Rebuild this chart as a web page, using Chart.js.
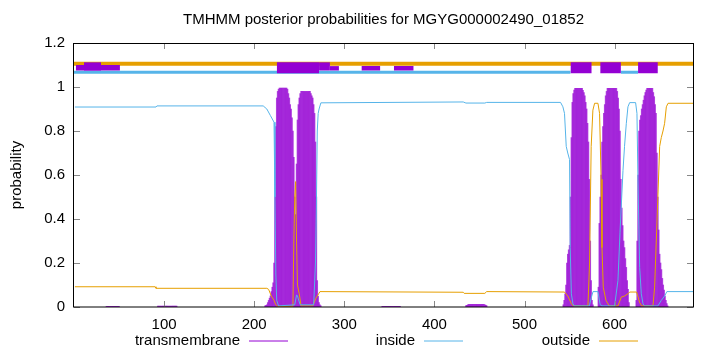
<!DOCTYPE html>
<html><head><meta charset="utf-8">
<script src="https://cdn.jsdelivr.net/npm/chart.js@4/dist/chart.umd.min.js"></script>
<style>html,body{margin:0;padding:0;background:#fff}#wrap{width:720px;height:352px;position:relative}</style>
</head><body><div id="wrap"><canvas id="c" width="720" height="352"></canvas></div>
<script>
const titleText = 'TMHMM posterior probabilities for MGYG000002490_01852';
const yTitle = 'probability';
const seriesLabels = ['transmembrane', 'inside', 'outside'];
const xTicks = [100, 200, 300, 400, 500, 600];
const yTicks = [0, 0.2, 0.4, 0.6, 0.8, 1, 1.2];
const xMin = 0, xMax = 687;

// transmembrane posterior per residue, in runs starting at tmStarts[i]
const tmStarts = [36, 93, 212, 342, 435, 543];
const tmA = [0.003,0.003,0.003,0.003,0.003,0.003,0.003,0.003,0.003,0.003,0.003,0.003,0.003,0.003,0.003];
const tmB = [0.004,0.004,0.004,0.004,0.004,0.004,0.004,0.004,0.004,0.004,0.004,0.004,0.004,0.004,0.004,0.004,0.004,0.004,0.004,0.004,0.004,0.004];
const tmC = [0.005,0.008,0.01,0.02,0.03,0.04,0.05,0.07,0.09,0.11,0.2,0.5,0.82,0.95,0.98,0.99,
  0.995,0.995,0.995,0.995,0.995,0.995,0.995,0.995,0.995,0.99,0.97,0.95,0.92,0.9,0.86,0.8,0.68,0.5,0.42,0.65,0.85,0.92,0.95,0.97,
  0.98,0.98,0.98,0.98,0.98,0.98,0.98,0.98,0.98,0.98,0.98,0.97,0.96,0.95,0.92,0.88,0.75,0.5,0.12,0.05,0.02,0.01,0.005];
const tmD = [0.003,0.003,0.003,0.003,0.003,0.003,0.003,0.003,0.003,0.003,0.003,0.003,0.003,0.003,0.003,0.003,0.003,0.003,0.003,0.003,0.003];
const tmE = [0.006,0.008,0.01,0.012,0.012,0.012,0.012,0.012,0.012,0.012,0.012,0.012,0.012,0.012,0.012,0.012,0.012,0.012,0.012,0.012,0.012,0.01,0.008,0.006];
const tmF = [0.01,0.03,0.06,0.1,0.2,0.24,0.26,0.28,0.5,0.77,0.93,0.97,0.986,
  0.994,0.994,0.994,0.994,0.994,0.994,0.994,0.994,0.994,0.985,0.975,0.96,0.93,0.9,0.835,0.75,0.58,0.3,0.12,0.03,0.01,
  0,0,0,0,0,
  0.09,0.38,0.5,0.6,0.75,0.82,0.88,0.92,0.96,0.98,
  0.994,0.994,0.994,0.994,0.994,0.994,0.994,0.994,0.994,0.994,0.994,0.98,0.95,0.9,0.8,0.58,0.45,0.37,0.3,0.27,0.22,0.18,0.12,0.08,0.02,
  0,0,0,0,0,0,0,
  0.03,0.3,0.6,0.8,0.85,0.87,0.9,0.92,0.94,0.96,0.975,0.986,
  0.994,0.994,0.994,0.994,0.994,0.994,0.994,0.975,0.956,0.92,0.88,0.7,0.5,0.35,0.24,0.2,0.17,0.13,0.1,0.077,0.05,0.03,0.015,0.005];
const tmRuns = [tmA, tmB, tmC, tmD, tmE, tmF];

// inside (light blue) curve, read at breakpoints
const insideX = [1,91,92,210,214,218,222,223,224,225,227,245,247,248,251,266,268,269,270,271,272,274,432,435,456,458,540,542.6,544.4,546.3,548,550,550.7,552,553.7,555,572,574,576,581.5,584,586,600,603.7,606,609.3,611,613,614.8,616.7,623.3,624.8,625.9,627.8,629.6,631.5,633,648,651.8,655.5,658,687];
const insideY = [0.909,0.909,0.914,0.914,0.9,0.87,0.84,0.5,0.15,0.03,0.005,0.01,0.055,0.05,0.01,0.01,0.2,0.45,0.8,0.88,0.9,0.928,0.932,0.927,0.927,0.93,0.93,0.91,0.88,0.73,0.7,0.67,0.27,0.06,0.015,0.005,0.005,0.04,0.07,0.07,0.01,0.005,0.005,0.12,0.34,0.62,0.73,0.835,0.91,0.929,0.929,0.88,0.58,0.18,0.06,0.015,0.005,0.005,0.03,0.05,0.07,0.07];

// outside (orange) curve, read at breakpoints
const outsideX = [1,90,91,214,216,219,222,224,226,243,244,245,246,247,248,250,252,265,268.5,271.5,273,432,433,456,458,544.4,548,552,554,570.4,572.2,574,575.9,577.8,581.5,583.3,585,586,587.4,590.4,594,603.7,607.4,611,614.8,616.7,624.4,627.8,630,642.6,644.4,648,650,651.8,653.7,655.5,657.4,659.3,687];
const outsideY = [0.092,0.092,0.085,0.085,0.08,0.05,0.03,0.01,0.003,0.003,0.3,0.5,0.57,0.3,0.1,0.06,0.005,0.005,0.04,0.06,0.07,0.067,0.062,0.062,0.07,0.068,0.05,0.015,0.005,0.005,0.2,0.73,0.895,0.926,0.926,0.88,0.58,0.27,0.09,0.03,0.005,0.005,0.045,0.05,0.06,0.068,0.068,0.02,0.005,0.005,0.09,0.5,0.73,0.77,0.8,0.835,0.91,0.926,0.926];

// predicted topology band at the top
const bandOutsideLevel = 1.106;
const bandInsideLevel = 1.067;
const bandInsideRuns = [[0, 551], [607, 626]];
const boxX0 = [2, 11, 225, 272, 284, 319, 355, 551, 584, 626];
const boxX1 = [51, 30, 272, 284, 294, 340, 377, 574.6, 607, 648];
const boxLo = [1.075, 1.075, 1.062, 1.075, 1.075, 1.075, 1.075, 1.062, 1.062, 1.062];
const boxHi = [1.10, 1.112, 1.112, 1.112, 1.095, 1.095, 1.095, 1.112, 1.112, 1.112];

const PURPLE = '#9400d3', BLUE = '#56b4e9', ORANGE = '#e69f00';
const FONT = '"Liberation Sans", Arial, Helvetica, sans-serif';
const FS = 15;

const tmPoints = [];
tmRuns.forEach((run, k) => run.forEach((v, i) => { if (v > 0) tmPoints.push({x: tmStarts[k] + i, y: v}); }));
const insidePts = insideX.map((x, i) => ({x, y: insideY[i]}));
const outsidePts = outsideX.map((x, i) => ({x, y: outsideY[i]}));
const insideBandPts = [];
bandInsideRuns.forEach((r, i) => { if (i) insideBandPts.push({x: r[0], y: null}); insideBandPts.push({x: r[0], y: bandInsideLevel}, {x: r[1], y: bandInsideLevel}); });

const common = {pointRadius: 0, pointHoverRadius: 0, tension: 0};
const datasets = [];
boxX0.forEach((x0, i) => datasets.push(Object.assign({
  type: 'line', label: 'box' + i, data: [{x: x0, y: boxHi[i]}, {x: boxX1[i], y: boxHi[i]}],
  fill: {value: boxLo[i]}, backgroundColor: PURPLE, borderColor: 'rgba(0,0,0,0)', borderWidth: 1
}, common)));
datasets.push(Object.assign({type: 'line', label: seriesLabels[1], data: insidePts, borderColor: BLUE, borderWidth: 1, fill: false}, common));
datasets.push(Object.assign({type: 'line', label: seriesLabels[2], data: outsidePts, borderColor: ORANGE, borderWidth: 1, fill: false}, common));
datasets.push(Object.assign({type: 'line', label: 'bandOut', data: [{x: xMin, y: bandOutsideLevel}, {x: xMax, y: bandOutsideLevel}], borderColor: ORANGE, borderWidth: 4, fill: false}, common));
datasets.push(Object.assign({type: 'line', label: 'bandIn', data: insideBandPts, borderColor: BLUE, borderWidth: 3, fill: false, spanGaps: false}, common));
datasets.push({type: 'bar', label: seriesLabels[0], data: tmPoints, backgroundColor: 'rgba(148,0,211,0.72)', borderWidth: 0, barThickness: 0.9});

const decor = {
  id: 'decor',
  afterDraw(chart) {
    const ctx = chart.ctx, a = chart.chartArea, xs = chart.scales.x, ys = chart.scales.y;
    ctx.save();
    // inward ticks
    ctx.strokeStyle = '#888'; ctx.lineWidth = 1;
    ctx.beginPath();
    yTicks.forEach(v => { const p = Math.round(ys.getPixelForValue(v)) + 0.5;
      ctx.moveTo(a.left, p); ctx.lineTo(a.left + 6, p); ctx.moveTo(a.right, p); ctx.lineTo(a.right - 6, p); });
    xTicks.forEach(v => { const p = Math.round(xs.getPixelForValue(v)) + 0.5;
      ctx.moveTo(p, a.bottom); ctx.lineTo(p, a.bottom - 6); ctx.moveTo(p, a.top); ctx.lineTo(p, a.top + 6); });
    ctx.stroke();
    // frame
    ctx.strokeStyle = '#000';
    ctx.strokeRect(Math.round(a.left) - 0.5, Math.round(a.top) + 0.5, Math.round(a.right - a.left) + 1, Math.round(a.bottom - a.top) - 0.5);
    // title
    ctx.fillStyle = '#000';
    ctx.font = FS + 'px ' + FONT; ctx.textAlign = 'center'; ctx.textBaseline = 'middle';
    ctx.fillText(titleText, (a.left + a.right) / 2, 20);
    // y title
    ctx.save(); ctx.translate(17, (a.top + a.bottom) / 2); ctx.rotate(-Math.PI / 2);
    ctx.fillText(yTitle, 0, 0); ctx.restore();
    // legend
    const legendTextRight = [240, 415, 590];
    const legendColors = [PURPLE, BLUE, ORANGE];
    ctx.textAlign = 'right';
    seriesLabels.forEach((lab, i) => {
      ctx.fillStyle = '#000';
      ctx.fillText(lab, legendTextRight[i], 341);
      ctx.strokeStyle = legendColors[i]; ctx.lineWidth = 1;
      ctx.beginPath(); ctx.moveTo(legendTextRight[i] + 9, 341); ctx.lineTo(legendTextRight[i] + 48, 341); ctx.stroke();
    });
    ctx.restore();
  }
};

new Chart(document.getElementById('c'), {
  type: 'line',
  data: {datasets},
  options: {
    responsive: false, animation: false, devicePixelRatio: 1,
    layout: {padding: {left: 0, right: 27, top: 43, bottom: 0}},
    plugins: {legend: {display: false}, tooltip: {enabled: false}, title: {display: false}},
    scales: {
      x: {type: 'linear', min: xMin, max: xMax, offset: false,
        afterBuildTicks: s => { s.ticks = xTicks.map(v => ({value: v})); },
        afterFit: s => { s.height = 45; },
        grid: {display: false, drawTicks: false}, border: {display: false},
        ticks: {color: '#000', padding: 9, font: {family: FONT, size: FS}, maxRotation: 0, autoSkip: false, callback: v => String(v)}},
      y: {type: 'linear', min: 0, max: 1.2,
        afterBuildTicks: s => { s.ticks = yTicks.map(v => ({value: v})); },
        afterFit: s => { s.width = 74; },
        grid: {display: false, drawTicks: false}, border: {display: false},
        ticks: {color: '#000', padding: 9, font: {family: FONT, size: FS}, autoSkip: false, callback: v => String(v)}}
    }
  },
  plugins: [decor]
});
</script></body></html>
